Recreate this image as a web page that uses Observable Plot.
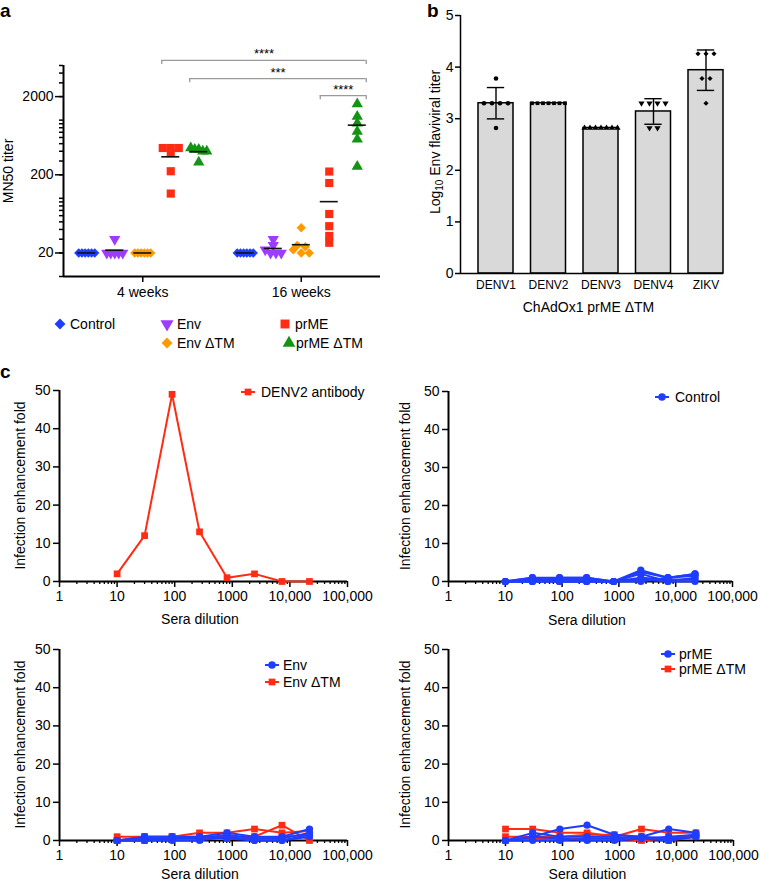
<!DOCTYPE html>
<html><head><meta charset="utf-8">
<script src="https://cdn.jsdelivr.net/npm/d3@7"></script>
<script src="https://cdn.jsdelivr.net/npm/@observablehq/plot@0.6"></script>
<style>
body{margin:0;background:#fff;}
#root{position:relative;width:760px;height:883px;font-family:"Liberation Sans",Arial,sans-serif;color:#000;overflow:hidden;background:#fff}
.lab{position:absolute;font-weight:bold;font-size:19px;line-height:1}
.leg{position:absolute;font-size:14px;display:flex;align-items:center;white-space:nowrap;height:18px}
</style></head><body><div id="root"></div>
<script>
const FONT = '"Liberation Sans", Arial, sans-serif';
// ---------- Panel a data ----------
const groups = ["Control", "Env", "Env ΔTM", "prME", "prME ΔTM"];
const groupColors = ["#1f3dff", "#9b3cff", "#ff9900", "#ff2b12", "#149414"];
const weeks = ["4 weeks", "16 weeks"];
const control4 = [20, 20, 20, 20, 20, 20];
const env4 = [30, 20, 20, 20, 20, 20];
const envDTM4 = [20, 20, 20, 20, 20, 20];
const prME4 = [440, 440, 440, 380, 222, 115];
const prMEDTM4 = [440, 420, 420, 400, 400, 290];
const control16 = [20, 20, 20, 20, 20, 20];
const env16 = [30, 25, 22, 20, 20, 20];
const envDTM16 = [42, 25, 24, 22, 20, 20];
const prME16 = [220, 157, 63, 44, 33, 27];
const prMEDTM16 = [1610, 1110, 915, 714, 571, 255];
const yTicksA = [20, 200, 2000];
const sigLabels = ["****", "***", "****"];
const sigFromWeek = [0, 0, 1], sigFromGroup = [3, 4, 3];
const sigToWeek = [1, 1, 1], sigToGroup = [4, 4, 4];
const sigLevel = [5800, 3400, 2060];

// ---------- Panel b data ----------
const viruses = ["DENV1", "DENV2", "DENV3", "DENV4", "ZIKV"];
const denv1 = [3.78, 3.30, 3.30, 3.30, 3.30, 2.82];
const denv2 = [3.30, 3.30, 3.30, 3.30, 3.30, 3.30, 3.30];
const denv3 = [2.82, 2.82, 2.82, 2.82, 2.82, 2.82, 2.82];
const denv4 = [3.30, 3.30, 3.30, 3.30, 2.82, 2.82];
const zikv = [4.26, 4.26, 4.26, 3.78, 3.78, 3.30];
const yTicksB = [0, 1, 2, 3, 4, 5];

// ---------- Panel c data ----------
const dilutions = [10, 30, 90, 270, 810, 2430, 7290, 21870];
const xTicksC = [1, 10, 100, 1000, 10000, 100000];
const yTicksC = [0, 10, 20, 30, 40, 50];
const denv2Antibody = [2, 12, 49, 13, 1, 2, 0, 0];
const controlSera = [
  [0, 1, 1, 1, 0, 3, 1, 2],
  [0, 1, 0, 0, 0, 2.5, 1, 1.5],
  [0, 0, 1, 1, 0, 2, 0, 1],
  [0, 0.5, 0.5, 0.5, 0, 1, 0.5, 0.5],
  [0, 0, 0, 0, 0, 0.5, 0, 0],
  [0, 0, 0, 0, 0, 0, 1, 2]];
const envSera = [
  [0, 1, 1, 1, 2, 1, 1, 3],
  [0, 0.5, 0.5, 0.5, 1.5, 0.5, 0.5, 2],
  [0, 0, 0, 0, 1, 0, 0, 1],
  [0, 0, 0.5, 1, 0.5, 0, 0, 1.5]];
const envDTMSera = [
  [1, 1, 1, 2, 2, 3, 2, 2.5],
  [0, 1, 1, 1, 1, 1, 4, 0],
  [0, 0, 0.5, 0.5, 0.5, 0.5, 1, 1.5]];
const prMESera = [
  [0, 1, 3, 4, 1.5, 1, 3, 2],
  [0, 2, 1, 1, 1, 0.5, 1, 1.5],
  [0, 0, 0, 0.5, 0.5, 1, 0.5, 1],
  [0, 1, 0.5, 0, 0, 0.5, 0, 1]];
const prMEDTMSera = [
  [3, 3, 2, 2, 1, 3, 2, 2],
  [1, 1, 1, 1.5, 1.5, 1, 0, 1],
  [0, 0.5, 0.5, 0.5, 0.5, 0, 0.5, 1.5]];

// ---------- helpers ----------
const RED = "#ff2b12", BLUE = "#1f3dff";
const triDown = {draw(ctx, size) {
  const y = -Math.sqrt(size / (Math.sqrt(3) * 3));
  ctx.moveTo(0, -y * 2); ctx.lineTo(-Math.sqrt(3) * y, y); ctx.lineTo(Math.sqrt(3) * y, y); ctx.closePath();
}};
const groupSymbols = [d3.symbolDiamond2, triDown, d3.symbolDiamond2, d3.symbolSquare, d3.symbolTriangle];
const groupR = [4.2, 4.2, 4.2, 4.6, 4.2];
const root = document.getElementById("root");
function place(node, left, top) {
  node.style.position = "absolute"; node.style.left = left + "px"; node.style.top = top + "px";
  root.appendChild(node); return node;
}
function label(txt, left, top) {
  const d = document.createElement("div"); d.className = "lab"; d.textContent = txt;
  d.style.left = left + "px"; d.style.top = top + "px"; root.appendChild(d);
}
function legendItem(left, cy, sym, color, text, opts = {}) {
  const w = opts.w || 12, size = opts.size || 60, gap = opts.gap || 4;
  const div = document.createElement("div"); div.className = "leg";
  div.style.left = left + "px"; div.style.top = (cy - 9) + "px";
  const svg = d3.create("svg").attr("width", w).attr("height", 18).style("overflow", "visible");
  if (opts.line) svg.append("line").attr("x1", 0).attr("x2", w).attr("y1", 9).attr("y2", 9).attr("stroke", color).attr("stroke-width", 2);
  svg.append("path").attr("transform", `translate(${w / 2},9)`).attr("d", d3.symbol(sym, size)()).attr("fill", color);
  div.append(svg.node());
  const s = document.createElement("span"); s.textContent = text; s.style.marginLeft = gap + "px";
  div.append(s); root.appendChild(div);
}
// spread identical values horizontally (pixel offsets)
function spread(values, thresh, maxSp, total) {
  const order = values.map((v, i) => i).sort((a, b) => values[b] - values[a]);
  const off = new Array(values.length).fill(0);
  let i = 0;
  while (i < order.length) {
    let j = i;
    while (j + 1 < order.length && Math.abs(Math.log10(values[order[i]] / values[order[j + 1]])) < thresh) j++;
    const k = j - i + 1, sp = k > 1 ? Math.min(maxSp, total / (k - 1)) : 0;
    for (let m = 0; m < k; m++) off[order[i + m]] = (m - (k - 1) / 2) * sp;
    i = j + 1;
  }
  return off;
}

// ================= Panel a =================
{
  const W = 380, ML = 63, MR = 0;
  const pxPerUnit = (W - ML - MR) / 2;
  const gStep = 28 / pxPerUnit, half = 9 / pxPerUnit;
  const table = [[control4, env4, envDTM4, prME4, prMEDTM4], [control16, env16, envDTM16, prME16, prMEDTM16]];
  const pts = [], means = [];
  table.forEach((gs, w) => gs.forEach((vals, g) => {
    const cx = w + (g - 2) * gStep;
    const off = spread(vals, 0.05, 8, 16);
    vals.forEach((v, i) => pts.push({g, x: cx + off[i] / pxPerUnit, value: v}));
    means.push({x1: cx - half, x2: cx + half, y: d3.mean(vals)});
  }));
  const br = sigLabels.map((t, i) => ({
    label: t, level: sigLevel[i],
    x1: sigFromWeek[i] + (sigFromGroup[i] - 2) * gStep - half,
    x2: sigToWeek[i] + (sigToGroup[i] - 2) * gStep + half
  }));
  const caps = br.flatMap(b => [{x: b.x1, y: b.level}, {x: b.x2, y: b.level}]);
  const minor = [];
  for (let e = 1; e <= 3; e++) for (let m = 1; m <= 9; m++) { const v = m * 10 ** e; if (v <= 5000) minor.push(v); }
  const marks = [
    Plot.axisY({ticks: minor, tickSize: 4, tickFormat: () => "", label: null, strokeWidth: 1.5}),
    Plot.axisY({ticks: yTicksA, tickSize: 8, tickPadding: 2, tickFormat: d => String(d), label: null, strokeWidth: 1.5, fontSize: 14}),
    Plot.axisX({ticks: [0, 1], tickSize: 6, tickPadding: 5, tickFormat: i => weeks[i], label: null, strokeWidth: 1.5, fontSize: 14}),
    Plot.ruleX([-0.5], {strokeWidth: 2}),
    Plot.ruleY([10], {strokeWidth: 2}),
  ];
  groups.forEach((gname, g) => {
    marks.push(Plot.dot(pts.filter(d => d.g === g), {x: "x", y: "value", fill: groupColors[g], symbol: groupSymbols[g], r: groupR[g], stroke: null}));
  });
  marks.push(Plot.ruleY(means, {x1: "x1", x2: "x2", y: "y", stroke: "#111", strokeWidth: 1.6}));
  marks.push(Plot.ruleY(br, {x1: "x1", x2: "x2", y: "level", stroke: "#9a9a9a", strokeWidth: 1.3}));
  marks.push(Plot.ruleX(caps, {x: "x", y1: "y", y2: d => d.y / 1.13, stroke: "#9a9a9a", strokeWidth: 1.3}));
  marks.push(Plot.text(br, {x: d => (d.x1 + d.x2) / 2, y: "level", text: "label", dy: -2, lineAnchor: "bottom", fontSize: 13}));
  const p = Plot.plot({
    width: W, height: 300, marginLeft: ML, marginRight: MR, marginTop: 65, marginBottom: 24,
    style: {fontFamily: FONT, fontSize: "14px", overflow: "visible", background: "transparent"},
    x: {domain: [-0.5, 1.5]},
    y: {type: "log", domain: [10, 5000]},
    marks
  });
  d3.select(p).append("text").attr("transform", "translate(8,171) rotate(-90)").attr("text-anchor", "middle")
    .attr("dominant-baseline", "central").attr("font-size", 14).attr("fill", "black").text("MN50 titer");
  place(p, 0, 0);
  // legend
  legendItem(54, 324, groupSymbols[0], groupColors[0], groups[0], {size: 75});
  legendItem(161, 324, groupSymbols[1], groupColors[1], groups[1], {size: 75, gap: 4});
  legendItem(279, 324, groupSymbols[3], groupColors[3], groups[3], {size: 80, gap: 4});
  legendItem(161, 343, groupSymbols[2], groupColors[2], groups[2], {size: 75, gap: 4});
  legendItem(283, 343, groupSymbols[4], groupColors[4], groups[4], {size: 70, gap: 1});
}
label("a", 0, 1);

// ================= Panel b =================
{
  const W = 380, H = 320, ML = 80, MR = 37, MT = 15, MB = 47;
  const step = 52.5, halfBar = 17.5 / step;
  const xMax = 4 + halfBar, xMin = xMax - (W - ML - MR) / step;
  const sets = [denv1, denv2, denv3, denv4, zikv];
  const syms = [d3.symbolCircle, d3.symbolSquare, d3.symbolTriangle, triDown, d3.symbolDiamond2];
  const symR = [2.3, 2.1, 2.3, 2.3, 2.3];
  const stats = sets.map((v, i) => ({i, mean: d3.mean(v), sd: d3.deviation(v) || 0}));
  const marks = [
    Plot.rect(stats, {x1: d => d.i - halfBar, x2: d => d.i + halfBar, y1: 0, y2: "mean", fill: "#d9d9d9", stroke: "black", strokeWidth: 1.5}),
    Plot.ruleX(stats.filter(d => d.sd > 0.001), {x: "i", y1: d => d.mean - d.sd, y2: d => d.mean + d.sd, strokeWidth: 1.4}),
    Plot.ruleY(stats.filter(d => d.sd > 0.001).flatMap(d => [{i: d.i, y: d.mean - d.sd}, {i: d.i, y: d.mean + d.sd}]),
      {x1: d => d.i - 0.165, x2: d => d.i + 0.165, y: "y", strokeWidth: 1.4}),
    Plot.axisY({ticks: yTicksB, tickSize: 5, tickPadding: 2, tickFormat: d => String(d), label: null, strokeWidth: 1.5, fontSize: 14}),
    Plot.axisX({ticks: [0, 1, 2, 3, 4], tickSize: 0, tickPadding: 7, tickFormat: i => viruses[i], label: null, fontSize: 12}),
    Plot.ruleX([xMin], {strokeWidth: 1.5}),
    Plot.ruleY([0], {strokeWidth: 1.5}),
  ];
  sets.forEach((v, i) => {
    const off = spread(v, 0.01, 8, 33);
    marks.push(Plot.dot(v.map((y, j) => ({x: i + off[j] / step, y})), {x: "x", y: "y", fill: "black", symbol: syms[i], r: symR[i]}));
  });
  const p = Plot.plot({
    width: W, height: H, marginLeft: ML, marginRight: MR, marginTop: MT, marginBottom: MB,
    style: {fontFamily: FONT, fontSize: "14px", overflow: "visible", background: "transparent"},
    x: {domain: [xMin, xMax]}, y: {domain: [0, 5]}, marks
  });
  const s = d3.select(p);
  const t = s.append("text").attr("transform", "translate(55,142) rotate(-90)").attr("text-anchor", "middle")
    .attr("dominant-baseline", "central").attr("font-size", 14).attr("fill", "black");
  t.append("tspan").text("Log");
  t.append("tspan").attr("font-size", 10).attr("dy", 4).text("10");
  t.append("tspan").attr("dy", -4).text(" Env flaviviral titer");
  s.append("text").attr("x", ML + (W - ML - MR) / 2 - 3).attr("y", 312).attr("text-anchor", "middle")
    .attr("font-size", 14).attr("fill", "black").text("ChAdOx1 prME ΔTM");
  place(p, 380, 0);
}
label("b", 427, 1);

// ================= Panel c =================
function linePanel(cfg) {
  const minor = [];
  for (let e = 0; e <= 4; e++) for (let m = 2; m <= 9; m++) minor.push(m * 10 ** e);
  const marks = [
    Plot.axisX({ticks: minor, tickSize: 3, tickFormat: () => "", label: null, strokeWidth: 1.3}),
    Plot.axisX({ticks: xTicksC, tickSize: 6, tickPadding: 4, label: null, strokeWidth: 1.5, fontSize: 14,
      tickFormat: d => d >= 10000 ? d3.format(",")(d) : String(d)}),
    Plot.axisY({ticks: yTicksC, tickSize: 6, tickPadding: 3, label: null, strokeWidth: 1.5, fontSize: 14}),
    Plot.ruleX([1], {strokeWidth: 2}),
    Plot.ruleY([0], {strokeWidth: 2}),
  ];
  cfg.series.forEach(s => {
    const rows = s.data.flatMap((arr, k) => arr.map((v, j) => ({id: k, x: dilutions[j], y: v})));
    marks.push(Plot.line(rows, {x: "x", y: "y", z: "id", stroke: s.color, strokeWidth: 2}));
    marks.push(Plot.dot(rows, {x: "x", y: "y", fill: s.color, symbol: s.symbol, r: s.r}));
  });
  const p = Plot.plot({
    width: 380, height: cfg.H, marginLeft: cfg.ML, marginRight: cfg.MR, marginTop: cfg.MT, marginBottom: cfg.MB,
    style: {fontFamily: FONT, fontSize: "14px", overflow: "visible", background: "transparent"},
    x: {type: "log", domain: [1, 100000]}, y: {domain: [0, 50]}, marks
  });
  const s = d3.select(p);
  const cy = cfg.MT + (cfg.H - cfg.MT - cfg.MB) / 2;
  s.append("text").attr("transform", `translate(${cfg.yt},${cy}) rotate(-90)`).attr("text-anchor", "middle")
    .attr("dominant-baseline", "central").attr("font-size", 14).attr("fill", "black").text("Infection enhancement fold");
  s.append("text").attr("x", cfg.ML + (380 - cfg.ML - cfg.MR) / 2 - 3).attr("y", cfg.xt).attr("text-anchor", "middle")
    .attr("font-size", 14).attr("fill", "black").text("Sera dilution");
  place(p, cfg.left, cfg.top);
}
linePanel({left: 0, top: 370, H: 262, ML: 59, MR: 33, MT: 20, MB: 51, yt: 20, xt: 254,
  series: [{data: [denv2Antibody], color: RED, symbol: d3.symbolSquare, r: 3.8}]});
legendItem(241, 392, d3.symbolSquare, RED, "DENV2 antibody", {line: true, w: 14, size: 45, gap: 6});
linePanel({left: 380, top: 370, H: 262, ML: 68, MR: 28, MT: 21, MB: 51, yt: 25, xt: 255,
  series: [{data: controlSera, color: BLUE, symbol: d3.symbolCircle, r: 3.6}]});
legendItem(655, 397, d3.symbolCircle, BLUE, "Control", {line: true, w: 14, size: 45, gap: 6});
linePanel({left: 0, top: 629, H: 254, ML: 59, MR: 33, MT: 20, MB: 43, yt: 20, xt: 250,
  series: [{data: envDTMSera, color: RED, symbol: d3.symbolSquare, r: 3.8},
           {data: envSera, color: BLUE, symbol: d3.symbolCircle, r: 3.6}]});
legendItem(265, 665, d3.symbolCircle, BLUE, "Env", {line: true, w: 14, size: 45, gap: 4});
legendItem(265, 682, d3.symbolSquare, RED, "Env ΔTM", {line: true, w: 14, size: 45, gap: 4});
linePanel({left: 380, top: 629, H: 254, ML: 68, MR: 27, MT: 20, MB: 43, yt: 25, xt: 250,
  series: [{data: prMEDTMSera, color: RED, symbol: d3.symbolSquare, r: 3.8},
           {data: prMESera, color: BLUE, symbol: d3.symbolCircle, r: 3.6}]});
legendItem(661, 654, d3.symbolCircle, BLUE, "prME", {line: true, w: 14, size: 45, gap: 4});
legendItem(661, 669, d3.symbolSquare, RED, "prME ΔTM", {line: true, w: 14, size: 45, gap: 4});
label("c", 0, 362);
</script></body></html>
